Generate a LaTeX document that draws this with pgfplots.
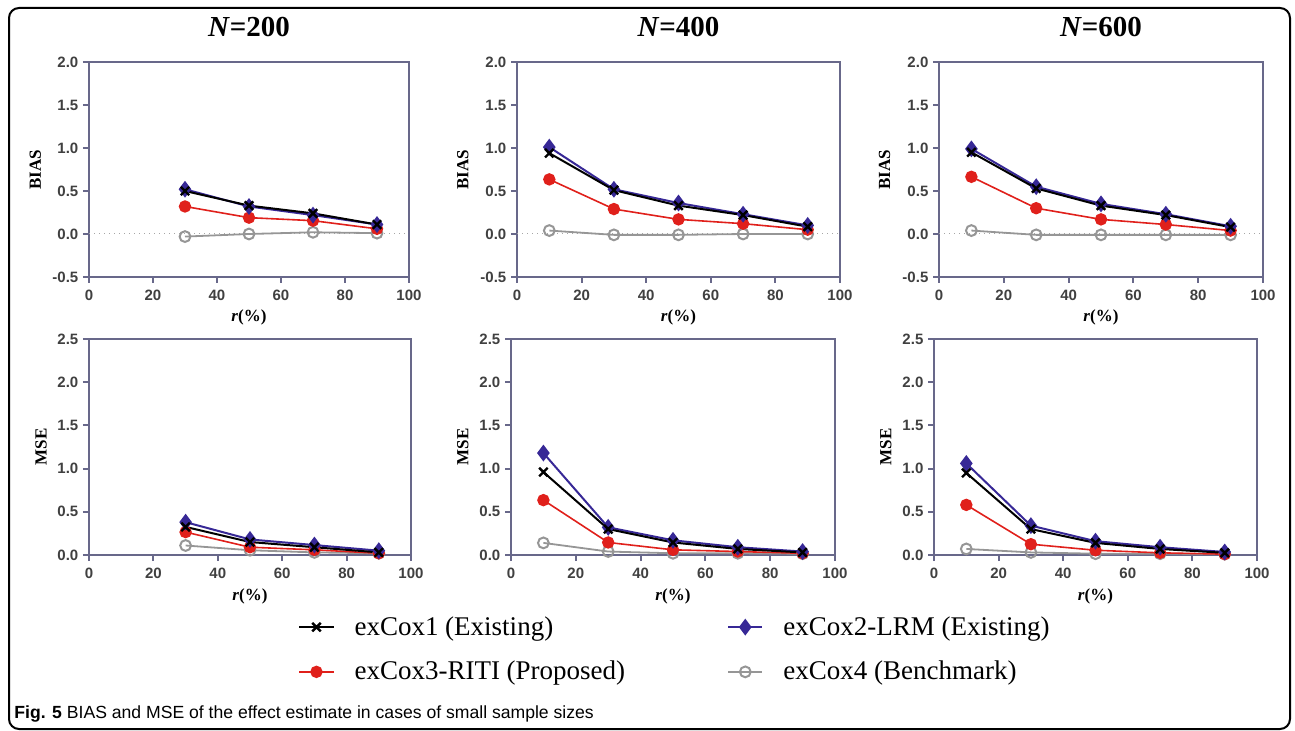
\documentclass[border=0pt]{standalone}
\usepackage{fontspec}
\setmainfont{Liberation Serif}
\setsansfont{Liberation Sans}
\usepackage{pgfplots}
\usepackage{pgfplotstable}
\pgfplotsset{compat=1.18}

\definecolor{AxisSlate}{RGB}{104,104,138}
\definecolor{TickText}{RGB}{64,64,64}
\definecolor{LRMBlue}{RGB}{55,40,150}
\definecolor{RitiRed}{RGB}{224,32,27}
\definecolor{BenchGray}{RGB}{150,150,150}

% columns: r, exCox1, exCox2-LRM, exCox3-RITI, exCox4
\pgfplotstableread{
r  c1    c2    c3    c4
30 0.50  0.52  0.32  -0.03
50 0.33  0.32  0.19  0.00
70 0.24  0.22  0.155 0.02
90 0.11  0.11  0.06  0.01
}\biasA
\pgfplotstableread{
r  c1    c2    c3    c4
10 0.94  1.01  0.635 0.04
30 0.51  0.52  0.29  -0.01
50 0.33  0.36  0.17  -0.01
70 0.22  0.23  0.12  0.00
90 0.085 0.10  0.05  0.00
}\biasB
\pgfplotstableread{
r  c1    c2    c3    c4
10 0.95  0.99  0.665 0.04
30 0.53  0.55  0.30  -0.01
50 0.33  0.35  0.17  -0.01
70 0.22  0.23  0.11  -0.01
90 0.08  0.09  0.04  -0.01
}\biasC
\pgfplotstableread{
r  c1    c2    c3    c4
30 0.325 0.38  0.265 0.11
50 0.15  0.18  0.09  0.055
70 0.09  0.115 0.06  0.03
90 0.03  0.05  0.02  0.02
}\mseA
\pgfplotstableread{
r  c1    c2    c3    c4
10 0.96  1.18  0.635 0.14
30 0.30  0.32  0.145 0.04
50 0.145 0.17  0.06  0.02
70 0.07  0.09  0.04  0.02
90 0.03  0.04  0.02  0.015
}\mseB
\pgfplotstableread{
r  c1    c2    c3    c4
10 0.95  1.06  0.58  0.07
30 0.30  0.34  0.125 0.03
50 0.14  0.16  0.055 0.015
70 0.07  0.09  0.025 0.015
90 0.025 0.035 0.01  0.01
}\mseC

\pgfplotsset{
  panel/.style={
    scale only axis, anchor=south west, clip=false,
    xmin=0, xmax=100, xtick={0,20,40,60,80,100},
    axis line style={AxisSlate, line width=1pt},
    every tick/.style={AxisSlate, line width=1pt},
    tick align=outside, tick pos=left, major tick length=3pt,
    tick label style={font=\sffamily\bfseries\fontsize{7.5}{8}\selectfont, text=TickText},
    /pgf/number format/assume math mode=true,
    yticklabel style={/pgf/number format/fixed, /pgf/number format/fixed zerofill,
      /pgf/number format/precision=1, xshift=1.2pt},
    xlabel={\textbf{\textit{r}(\%)}},
    xlabel style={font=\fontsize{8.5}{10}\selectfont, at={(axis description cs:0.5,-0.19)}, anchor=center},
    ylabel style={font=\bfseries\fontsize{8.5}{10}\selectfont, anchor=center},
    title style={font=\bfseries\fontsize{14.5}{16}\selectfont, yshift=3pt},
  },
  biaspanel/.style={panel, height=107.5pt, ymin=-0.5, ymax=2, ytick={-0.5,0,0.5,1,1.5,2},
    ylabel={BIAS}, ylabel style={at={(axis description cs:-0.168,0.5)}}},
  msepanel/.style={panel, height=108pt, ymin=0, ymax=2.5, ytick={0,0.5,1,1.5,2,2.5},
    ylabel={MSE}, ylabel style={at={(axis description cs:-0.149,0.5)}}},
  sA/.style={black, line width=1pt, mark=x, mark size=3pt, mark options={line width=1.2pt}},
  sB/.style={LRMBlue, line width=1pt, mark=diamond*, mark size=3.4pt, mark options={fill=LRMBlue}},
  sC/.style={RitiRed, line width=0.8pt, mark=*, mark size=2.7pt, mark options={fill=RitiRed}},
  sD/.style={BenchGray, line width=0.9pt, mark=o, mark size=2.7pt, mark options={line width=1pt, fill=white}},
  zeroline/.style={forget plot, gray!70, dotted, line width=0.5pt, mark=none},
}

\begin{document}
\begin{tikzpicture}
\useasboundingbox (0,0) rectangle (647.5pt,-365.5pt);
\draw[rounded corners=5pt, line width=1pt] (4.5pt,-4pt) rectangle (645pt,-364.5pt);

% top row: BIAS
\begin{axis}[biaspanel, at={(44.5pt,-138.5pt)}, width=160pt, title={\textit{N}=200}]
\addplot[zeroline] coordinates {(0,0) (100,0)};
\addplot[sD] table[x=r,y=c4] {\biasA};
\addplot[sC] table[x=r,y=c3] {\biasA};
\addplot[sB] table[x=r,y=c2] {\biasA};
\addplot[sA] table[x=r,y=c1] {\biasA};
\end{axis}
\begin{axis}[biaspanel, at={(258.5pt,-138.5pt)}, width=161.5pt, title={\textit{N}=400}]
\addplot[zeroline] coordinates {(0,0) (100,0)};
\addplot[sD] table[x=r,y=c4] {\biasB};
\addplot[sC] table[x=r,y=c3] {\biasB};
\addplot[sB] table[x=r,y=c2] {\biasB};
\addplot[sA] table[x=r,y=c1] {\biasB};
\end{axis}
\begin{axis}[biaspanel, at={(469.5pt,-138.5pt)}, width=162pt, title={\textit{N}=600}]
\addplot[zeroline] coordinates {(0,0) (100,0)};
\addplot[sD] table[x=r,y=c4] {\biasC};
\addplot[sC] table[x=r,y=c3] {\biasC};
\addplot[sB] table[x=r,y=c2] {\biasC};
\addplot[sA] table[x=r,y=c1] {\biasC};
\end{axis}

% bottom row: MSE
\begin{axis}[msepanel, at={(44.5pt,-277.5pt)}, width=161pt]
\addplot[sD] table[x=r,y=c4] {\mseA};
\addplot[sC] table[x=r,y=c3] {\mseA};
\addplot[sB] table[x=r,y=c2] {\mseA};
\addplot[sA] table[x=r,y=c1] {\mseA};
\end{axis}
\begin{axis}[msepanel, at={(255.5pt,-277.5pt)}, width=162pt,
  legend columns=2, legend cell align=left,
  legend style={at={(axis description cs:-0.676,-0.4375)}, anchor=west,
    draw=none, fill=none, font=\fontsize{13.5}{16}\selectfont, row sep=7.5pt,
    /tikz/every odd column/.append style={column sep=8pt},
    /tikz/every even column/.append style={column sep=49pt}}]
\addplot[sD, forget plot] table[x=r,y=c4] {\mseB};
\addplot[sC, forget plot] table[x=r,y=c3] {\mseB};
\addplot[sB, forget plot] table[x=r,y=c2] {\mseB};
\addplot[sA, forget plot] table[x=r,y=c1] {\mseB};
\addlegendimage{sA}\addlegendentry{exCox1 (Existing)}
\addlegendimage{sB}\addlegendentry{exCox2-LRM (Existing)}
\addlegendimage{sC}\addlegendentry{exCox3-RITI (Proposed)}
\addlegendimage{sD}\addlegendentry{exCox4 (Benchmark)}
\end{axis}
\begin{axis}[msepanel, at={(467pt,-277.5pt)}, width=161.5pt]
\addplot[sD] table[x=r,y=c4] {\mseC};
\addplot[sC] table[x=r,y=c3] {\mseC};
\addplot[sB] table[x=r,y=c2] {\mseC};
\addplot[sA] table[x=r,y=c1] {\mseC};
\end{axis}

\node[anchor=base west, inner sep=0pt, font=\sffamily\fontsize{8.8}{10}\selectfont]
  at (7pt,-359pt) {\textbf{Fig. 5} BIAS and MSE of the effect estimate in cases of small sample sizes};
\end{tikzpicture}
\end{document}
